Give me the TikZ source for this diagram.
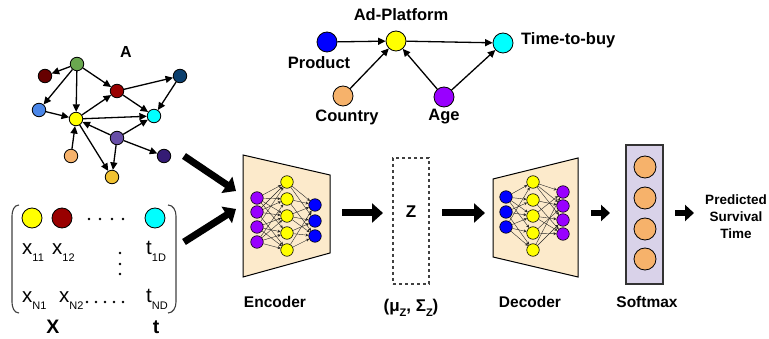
\documentclass[tikz,border=0pt]{standalone}
\usepackage{fontspec}
\setmainfont{Liberation Sans}
\usetikzlibrary{arrows.meta}
\definecolor{cyel}{HTML}{FFFF00}
\definecolor{ccyan}{HTML}{00FFFF}
\definecolor{cgreen}{HTML}{6AA84F}
\definecolor{cmaroon}{HTML}{660000}
\definecolor{cred}{HTML}{990000}
\definecolor{cnavy}{HTML}{0B3F6E}
\definecolor{clblue}{HTML}{4A86E8}
\definecolor{cslate}{HTML}{674EA7}
\definecolor{corange}{HTML}{F6B26B}
\definecolor{cindigo}{HTML}{351C75}
\definecolor{cgold}{HTML}{F1C232}
\definecolor{cblue}{HTML}{0000FF}
\definecolor{cpurple}{HTML}{9900FF}
\definecolor{cbeige}{HTML}{FCEACB}
\definecolor{clav}{HTML}{D9D2E9}
\newcommand\sbx[1]{\raisebox{-0.3em}{\fontsize{11}{12}\selectfont #1}}
\begin{document}
\begin{tikzpicture}[x=1pt,y=-1pt,
  gnode/.style={circle,draw=black,line width=0.8pt,minimum size=13.5pt,inner sep=0pt},
  tnode/.style={circle,draw=black,line width=0.8pt,minimum size=20pt,inner sep=0pt},
  nn/.style={circle,draw=black,line width=0.6pt,minimum size=12.5pt,inner sep=0pt},
  smn/.style={circle,draw=black,line width=0.8pt,fill=corange,minimum size=22pt,inner sep=0pt},
  garr/.style={-{Triangle[length=7.5pt,width=7pt]},line width=1.3pt},
  narr/.style={-{Stealth[length=3pt,width=3pt]},line width=0.4pt,draw=black!85},
  bigarr/.style={line width=7pt,-{Triangle[length=11pt,width=19pt]}},
  midarr/.style={line width=6pt,-{Triangle[length=9pt,width=16pt]}},
  lbl/.style={font=\bfseries\fontsize{16.5}{18}\selectfont,inner sep=0pt},
  blbl/.style={font=\bfseries\fontsize{15.5}{18}\selectfont,inner sep=0pt},
  mtx/.style={font=\fontsize{20.5}{22}\selectfont,inner sep=0pt,anchor=base west},
  dot/.style={circle,fill=black,inner sep=0pt,minimum size=2.8pt}
]
\useasboundingbox (0,0) rectangle (769,339);

% ---------------- Graph A ----------------
\node[lbl,font=\bfseries\fontsize{16}{18}\selectfont] (Alab) at (126,52) {A};
\node[gnode,fill=cgreen] (g1) at (77,64) {};
\node[gnode,fill=cmaroon] (g2) at (45,76) {};
\node[gnode,fill=cred] (g3) at (117,91) {};
\node[gnode,fill=cnavy] (g4) at (180,76) {};
\node[gnode,fill=clblue] (g5) at (39,110) {};
\node[gnode,fill=cyel] (g6) at (76,119) {};
\node[gnode,fill=ccyan] (g7) at (154,116) {};
\node[gnode,fill=cslate] (g8) at (117,138) {};
\node[gnode,fill=corange] (g9) at (71,156) {};
\node[gnode,fill=cindigo] (g10) at (164,156) {};
\node[gnode,fill=cgold] (g11) at (112,177) {};
\foreach \a/\b in {g1/g2,g1/g5,g1/g6,g1/g3,g5/g6,g6/g3,g6/g7,g6/g11,g3/g4,g3/g7,g4/g7,g8/g6,g8/g7,g8/g10,g8/g11,g9/g6}
  \draw[garr] (\a) -- (\b);

% ---------------- Matrix ----------------
\draw[line width=1.1pt,black!75] (19,205) to[out=180,in=90] (12,216) -- (12,302) to[out=-90,in=180] (19,313);
\draw[line width=1.1pt,black!75] (168,205) to[out=0,in=90] (176,216) -- (176,302) to[out=-90,in=0] (168,313);
\node[tnode,fill=cyel] (m1) at (32,218) {};
\node[tnode,fill=cred] (m2) at (62,218) {};
\node[tnode,fill=ccyan] (m3) at (155,218) {};
\foreach \i/\x in {1/89,2/100,3/112,4/123} \node[dot] (td\i) at (\x,219) {};
\foreach \i/\y in {1/253,2/264,3/274} \node[dot] (vd\i) at (120,\y) {};
\foreach \i/\x in {1/87,2/96,3/105,4/114,5/123} \node[dot] (bd\i) at (\x,302) {};
\node[mtx] (x11) at (22,255) {x\sbx{11}};
\node[mtx] (x12) at (52,255) {x\sbx{12}};
\node[mtx] (t1D) at (146,255) {t\sbx{1D}};
\node[mtx] (xN1) at (22,303) {x\sbx{N1}};
\node[mtx] (xN2) at (59,303) {x\sbx{N2}};
\node[mtx] (tND) at (146,303) {t\sbx{ND}};
\node[font=\bfseries\fontsize{19.5}{20}\selectfont,inner sep=0pt] (Xlab) at (53,327) {X};
\node[font=\bfseries\fontsize{19.5}{20}\selectfont,inner sep=0pt] (tlab) at (156,327) {t};

% ---------------- Top causal graph ----------------
\node[tnode,fill=cblue] (prod) at (327,42) {};
\node[tnode,fill=cyel] (adp) at (396,41) {};
\node[tnode,fill=ccyan] (ttb) at (503,43) {};
\node[tnode,fill=corange] (ctry) at (343,96) {};
\node[tnode,fill=cpurple] (age) at (444,97) {};
\node[lbl] (adpl) at (401,15) {Ad-Platform};
\node[lbl] (prodl) at (319,63) {Product};
\node[lbl,anchor=west] (ttbl) at (521,40) {Time-to-buy};
\node[lbl] (ctryl) at (347,117) {Country};
\node[lbl] (agel) at (444,117) {Age};
\draw[garr] (prod) -- (adp);
\draw[garr] (adp) -- (ttb);
\draw[garr] (ctry) -- (adp);
\draw[garr] (age) -- (adp);
\draw[garr] (age) -- (ttb);

% ---------------- Encoder ----------------
\draw[line width=1pt,fill=cbeige] (243,155) coordinate (encTL) -- (330,175) -- (330,253) -- (243,277) coordinate (encBL) -- cycle;
\foreach \i/\y in {1/198,2/212,3/227,4/242} \node[nn,fill=cpurple] (ep\i) at (257,\y) {};
\foreach \i/\y in {1/182,2/199,3/216,4/233,5/250} \node[nn,fill=cyel] (ey\i) at (287,\y) {};
\foreach \i/\y in {1/205,2/221,3/236} \node[nn,fill=cblue] (eb\i) at (315,\y) {};
\foreach \a/\b in {1/1,1/2,1/3,1/4,2/2,2/3,2/5,3/1,3/3,3/4,4/2,4/4,4/5,2/1,3/5,4/3}
  \draw[narr] (ep\a) -- (ey\b);
\foreach \a/\b in {1/1,1/2,2/1,2/3,3/1,3/2,3/3,4/2,4/3,5/3,5/1}
  \draw[narr] (ey\a) -- (eb\b);
\node[blbl] (encl) at (275,302) {Encoder};

% ---------------- Z ----------------
\node[draw=black!75,dashed,line width=1.1pt,minimum width=36pt,minimum height=126pt,inner sep=0pt] (zbox) at (411,221) {};
\node[font=\bfseries\fontsize{17}{18}\selectfont,inner sep=0pt] (zl) at (411,212) {Z};
\node[font=\bfseries\fontsize{17}{18}\selectfont,inner sep=0pt] (mus) at (411,308) {(μ\sbx{Z}, Σ\sbx{Z})};

% ---------------- Decoder ----------------
\draw[line width=1pt,fill=cbeige] (493,179) -- (578,158) coordinate (decTR) -- (578,277) -- (493,257) -- cycle;
\foreach \i/\y in {1/197,2/212,3/227} \node[nn,fill=cblue] (db\i) at (506,\y) {};
\foreach \i/\y in {1/182,2/200,3/216,4/233,5/250} \node[nn,fill=cyel] (dy\i) at (533,\y) {};
\foreach \i/\y in {1/192,2/206,3/220,4/234} \node[nn,fill=cpurple] (dp\i) at (563,\y) {};
\foreach \a/\b in {1/1,1/2,1/4,2/2,2/3,2/5,3/1,3/3,3/4,3/5,1/3}
  \draw[narr] (db\a) -- (dy\b);
\foreach \a/\b in {1/1,1/3,2/2,2/4,3/1,3/3,4/2,4/4,5/3,5/1,1/2,3/4}
  \draw[narr] (dy\a) -- (dp\b);
\node[blbl] (decl) at (530,302) {Decoder};

% ---------------- Softmax ----------------
\node[draw=black!80,line width=1.2pt,fill=clav,minimum width=37pt,minimum height=139pt,inner sep=0pt] (smbox) at (644.5,214.5) {};
\foreach \i/\y in {1/167,2/198,3/229,4/259} \node[smn] (sm\i) at (645,\y) {};
\node[blbl] (sml) at (647,302) {Softmax};
\node[font=\bfseries\fontsize{13.5}{17}\selectfont,align=center,inner sep=0pt] (pst) at (736,217) {Predicted\\Survival\\Time};

% ---------------- Big arrows ----------------
\coordinate (a1s) at (184,156);
\coordinate (a1e) at (236,191);
\coordinate (a2s) at (184,242);
\coordinate (a2e) at (236,209);
\draw[bigarr] (a1s) -- (a1e);
\draw[bigarr] (a2s) -- (a2e);
\coordinate (e2zs) at (342,213);
\coordinate (e2ze) at (383,213);
\draw[bigarr] (e2zs) -- (e2ze);
\coordinate (z2ds) at (442,213);
\coordinate (z2de) at (485,213);
\draw[bigarr] (z2ds) -- (z2de);
\coordinate (d2ss) at (591,213);
\coordinate (d2se) at (610,213);
\draw[midarr] (d2ss) -- (d2se);
\coordinate (s2ps) at (675,213);
\coordinate (s2pe) at (694,213);
\draw[midarr] (s2ps) -- (s2pe);
\end{tikzpicture}
\end{document}
